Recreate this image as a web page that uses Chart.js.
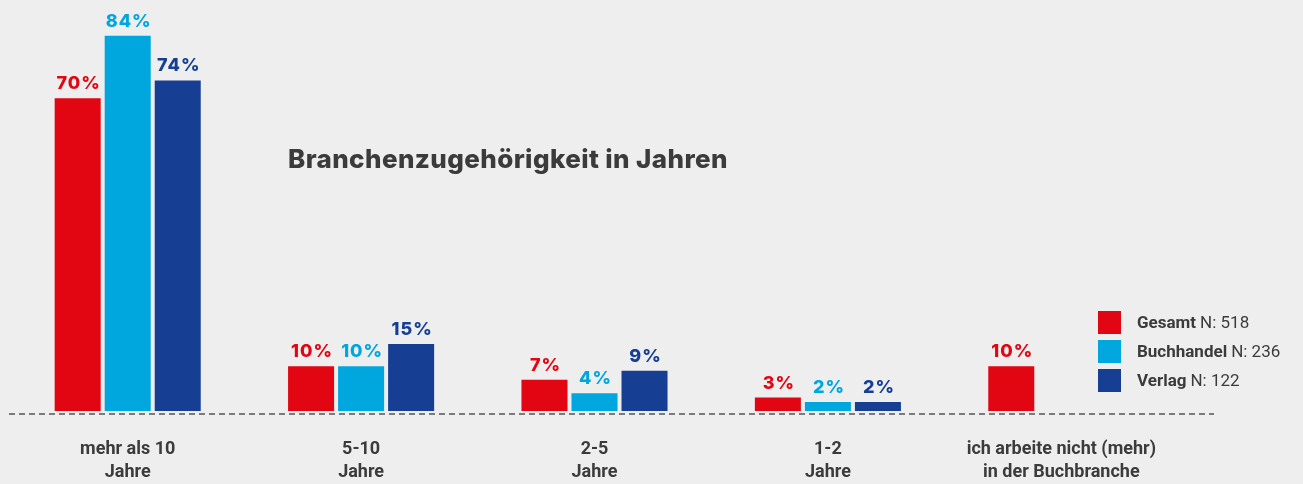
<!DOCTYPE html>
<html lang="de">
<head>
<meta charset="utf-8">
<title>Branchenzugehörigkeit in Jahren</title>
<script src="https://cdn.jsdelivr.net/npm/chart.js@4"></script>
<style>
  html, body { margin: 0; padding: 0; background: #eeeeee; }
  .chartContainer { position: relative; width: 1303px; height: 484px; font-family: Roboto, sans-serif; color: #3b3b3b; }
  .chart-title { position: absolute; left: 288px; top: 146px; font-family: Inter, sans-serif; font-size: 26px; line-height: 26px; font-weight: 800; letter-spacing: 0.4px; white-space: nowrap; }
  .legend { position: absolute; left: 1098px; top: 311px; }
  .legend-row { display: flex; align-items: center; height: 23px; margin-bottom: 6px; font-size: 17px; line-height: 23px; white-space: nowrap; }
  .legend-box { width: 23px; height: 23px; margin-right: 16px; }
  .legend-row b { font-weight: 700; margin-right: 4px; }
</style>
</head>
<body>
<div class="chartContainer">
  <canvas class="bar-chart"></canvas>
  <div class="chart-title">Branchenzugehörigkeit in Jahren</div>
  <div class="legend"></div>
</div>
<script>
const categories = [
  ['mehr als 10', 'Jahre'],
  ['5-10', 'Jahre'],
  ['2-5', 'Jahre'],
  ['1-2', 'Jahre'],
  ['ich arbeite nicht (mehr)', 'in der Buchbranche'],
];

const seriesNames = ['Gesamt', 'Buchhandel', 'Verlag'];
const sampleSizes = [518, 236, 122];

const gesamt = [70, 10, 7, 3, 10];
const buchhandel = [84, 10, 4, 2, null];
const verlag = [74, 15, 9, 2, null];

const seriesColors = ['#e20613', '#00a6de', '#163f94'];

const textColor = '#3b3b3b';
const barCanvas = document.querySelector('.bar-chart');

// value labels above each bar, in the colour of the bar
const valueLabels = {
  id: 'valueLabels',
  afterDatasetsDraw(chart) {
    const ctx = chart.ctx;
    ctx.save();
    ctx.font = '800 18px Inter';
    ctx.letterSpacing = '1px';
    ctx.textAlign = 'center';
    ctx.textBaseline = 'alphabetic';
    chart.data.datasets.forEach((ds, i) => {
      chart.getDatasetMeta(i).data.forEach((bar, j) => {
        const v = ds.data[j];
        if (v === null || v === undefined) return;
        ctx.fillStyle = ds.backgroundColor;
        ctx.fillText(v + '%', bar.x + 1, bar.y - 9);
      });
    });
    ctx.restore();
  },
};

// dashed base line under the bars
const baseLine = {
  id: 'baseLine',
  beforeDatasetsDraw(chart) {
    const ctx = chart.ctx;
    const y = chart.scales.y.getPixelForValue(0) + 3;
    ctx.save();
    ctx.strokeStyle = '#555555';
    ctx.lineWidth = 1.5;
    ctx.setLineDash([6, 4]);
    ctx.beginPath();
    ctx.moveTo(9, y);
    ctx.lineTo(1214, y);
    ctx.stroke();
    ctx.restore();
  },
};

const datasets = [gesamt, buchhandel, verlag].map((values, i) => ({
  label: seriesNames[i],
  data: values,
  backgroundColor: seriesColors[i],
  borderWidth: 0,
  categoryPercentage: 0.643,
  barPercentage: 0.92,
}));

new Chart(barCanvas, {
  type: 'bar',
  data: { labels: categories, datasets: datasets },
  options: {
    responsive: true,
    maintainAspectRatio: false,
    animation: false,
    layout: { padding: { left: 11, right: 125, top: 0, bottom: 0 } },
    plugins: {
      legend: { display: false },
      tooltip: { enabled: false },
    },
    scales: {
      x: {
        grid: { display: false, drawTicks: false },
        border: { display: false },
        ticks: {
          color: textColor,
          font: { family: 'Roboto', size: 18, weight: '700', lineHeight: 1.28 },
          padding: 27,
          maxRotation: 0,
          autoSkip: false,
        },
        afterFit: (scale) => { scale.height = 73; },
      },
      y: {
        display: false,
        min: 0,
        max: 92,
      },
    },
  },
  plugins: [baseLine, valueLabels],
});

const legend = document.querySelector('.legend');
seriesNames.forEach((name, i) => {
  const row = document.createElement('div');
  row.className = 'legend-row';
  row.innerHTML = '<span class="legend-box" style="background:' + seriesColors[i] + '"></span>' +
    '<b>' + name + '</b>N: ' + sampleSizes[i];
  legend.appendChild(row);
});
</script>
</body>
</html>
